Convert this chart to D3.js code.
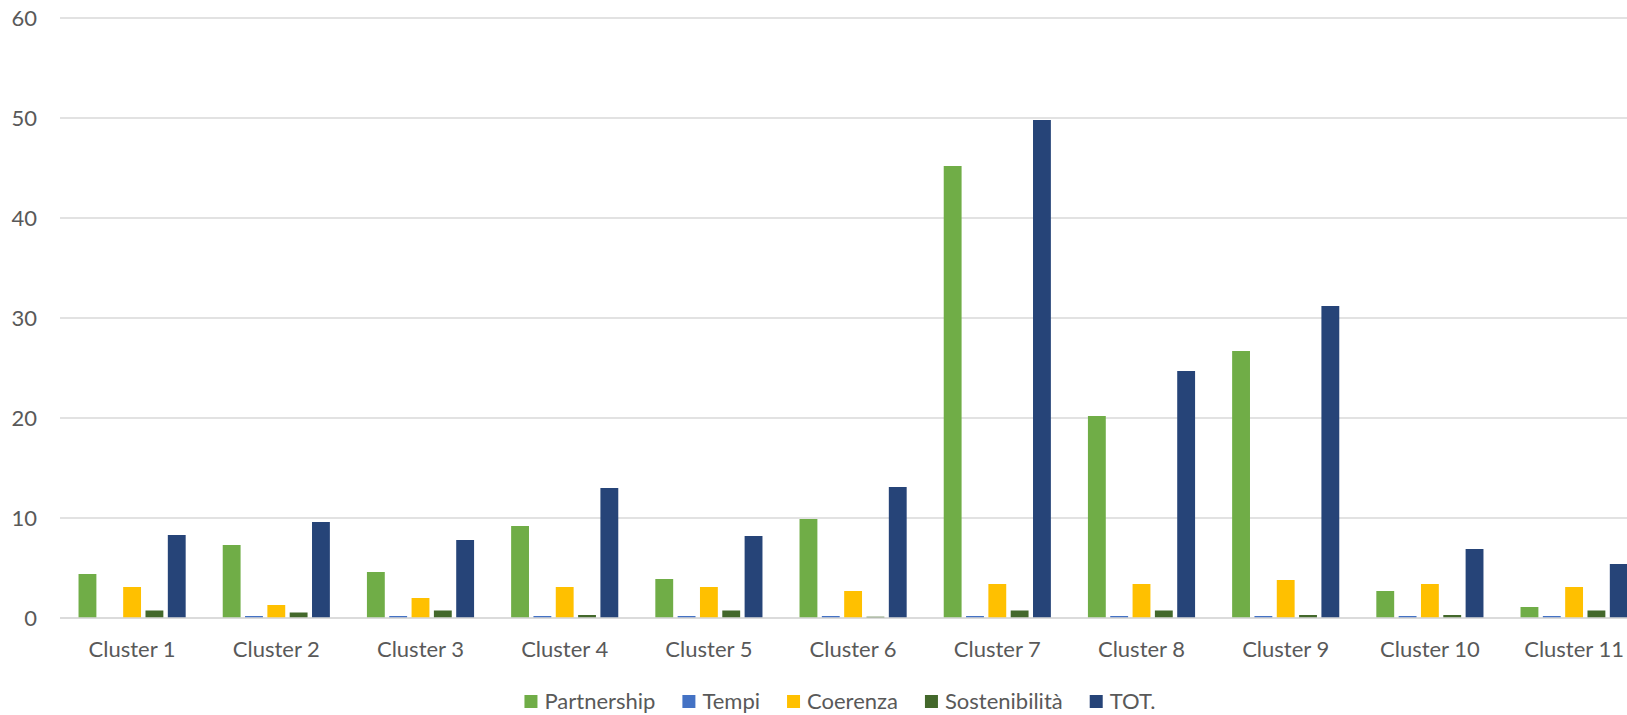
<!DOCTYPE html>
<html lang='it'>
<head>
	<meta charset='utf-8'>
	<script type='text/javascript' src='https://d3js.org/d3.v7.min.js'></script>
	<style>
		body { margin: 0; background: #fff; overflow: hidden; }
		text { font-family: Lato, "Liberation Sans", sans-serif; fill: #595959; }
	</style>
</head>
<body>
	<svg id='chart' width='1627' height='715'></svg>
	<script>
		var clusters = ['Cluster 1', 'Cluster 2', 'Cluster 3', 'Cluster 4', 'Cluster 5', 'Cluster 6',
			'Cluster 7', 'Cluster 8', 'Cluster 9', 'Cluster 10', 'Cluster 11'];
		var seriesNames = ['Partnership', 'Tempi', 'Coerenza', 'Sostenibilità', 'TOT.'];
		var seriesColors = ['#70AD47', '#4472C4', '#FFC000', '#43682B', '#264478'];

		var partnership = [4.4, 7.3, 4.6, 9.2, 3.9, 9.9, 45.2, 20.2, 26.7, 2.7, 1.1];
		var tempi = [0, 0.2, 0.2, 0.2, 0.2, 0.2, 0.2, 0.2, 0.2, 0.2, 0.2];
		var coerenza = [3.1, 1.3, 2.0, 3.1, 3.1, 2.7, 3.4, 3.4, 3.8, 3.4, 3.1];
		var sostenibilita = [0.75, 0.55, 0.75, 0.3, 0.75, 0.13, 0.75, 0.75, 0.3, 0.3, 0.75];
		var tot = [8.3, 9.6, 7.8, 13.0, 8.2, 13.1, 49.8, 24.7, 31.2, 6.9, 5.4];

		var yTicks = [0, 10, 20, 30, 40, 50, 60];

		var seriesValues = [partnership, tempi, coerenza, sostenibilita, tot];

		var svg = d3.select('#chart');

		// plot area (the right side is cut off like in the original picture)
		var plotLeft = 60, plotTop = 18, plotBottom = 618;
		var clusterStep = 144.2;

		var x0 = d3.scaleBand()
			.domain(clusters)
			.range([plotLeft, plotLeft + clusterStep * clusters.length]);

		var x1 = d3.scaleBand()
			.domain(seriesNames)
			.range([0, x0.bandwidth()])
			.paddingInner(0.2)
			.paddingOuter(0.83);

		var y = d3.scaleLinear()
			.domain([0, 60])
			.range([plotBottom, plotTop]);

		// gridlines
		svg.append('g')
			.selectAll('line')
			.data(yTicks)
			.enter()
			.append('line')
			.attr('x1', plotLeft)
			.attr('x2', 1627)
			.attr('y1', d => y(d))
			.attr('y2', d => y(d))
			.attr('stroke', '#D9D9D9')
			.attr('stroke-width', 1.3);

		// y labels
		var yAxis = d3.axisLeft(y).tickValues(yTicks).tickSize(0).tickPadding(0);
		var gy = svg.append('g')
			.attr('transform', 'translate(37,0)')
			.call(yAxis);
		gy.select('.domain').remove();
		gy.selectAll('text')
			.style('font-size', '22px')
			.attr('fill', '#595959')
			.attr('dy', '0.35em');

		// bars
		var groups = svg.append('g')
			.selectAll('g')
			.data(clusters)
			.enter()
			.append('g')
			.attr('transform', d => 'translate(' + x0(d) + ',0)');

		groups.selectAll('rect')
			.data(function(c, i) {
				return seriesNames.map(function(s, j) {
					return { series: s, value: seriesValues[j][i], color: seriesColors[j] };
				});
			})
			.enter()
			.append('rect')
			.attr('x', d => x1(d.series))
			.attr('width', x1.bandwidth())
			.attr('y', d => y(d.value))
			.attr('height', d => y(0) - y(d.value))
			.attr('fill', d => d.color);

		// x axis line on top of bars
		svg.append('line')
			.attr('x1', plotLeft)
			.attr('x2', 1627)
			.attr('y1', y(0))
			.attr('y2', y(0))
			.attr('stroke', '#D9D9D9')
			.attr('stroke-width', 1.5);

		// cluster labels
		var xAxis = d3.axisBottom(x0).tickSize(0).tickPadding(0);
		var gx = svg.append('g')
			.attr('transform', 'translate(0,' + 641 + ')')
			.call(xAxis);
		gx.select('.domain').remove();
		gx.selectAll('text')
			.style('font-size', '22px')
			.attr('fill', '#595959');

		// legend
		var legend = svg.append('g');
		var items = legend.selectAll('g')
			.data(seriesNames)
			.enter()
			.append('g');

		items.append('rect')
			.attr('width', 13)
			.attr('height', 13)
			.attr('y', 695)
			.attr('fill', (d, i) => seriesColors[i]);

		items.append('text')
			.attr('x', 20)
			.attr('y', 709)
			.style('font-size', '22px')
			.text(d => d);

		var pos = 0;
		var offsets = [];
		items.each(function() {
			var w = d3.select(this).select('text').node().getComputedTextLength();
			offsets.push(pos);
			pos += 20 + w + 27;
		});
		var totalW = pos - 27;
		var startX = 840 - totalW / 2;
		items.attr('transform', (d, i) => 'translate(' + (startX + offsets[i]) + ',0)');
	</script>
</body>
</html>
